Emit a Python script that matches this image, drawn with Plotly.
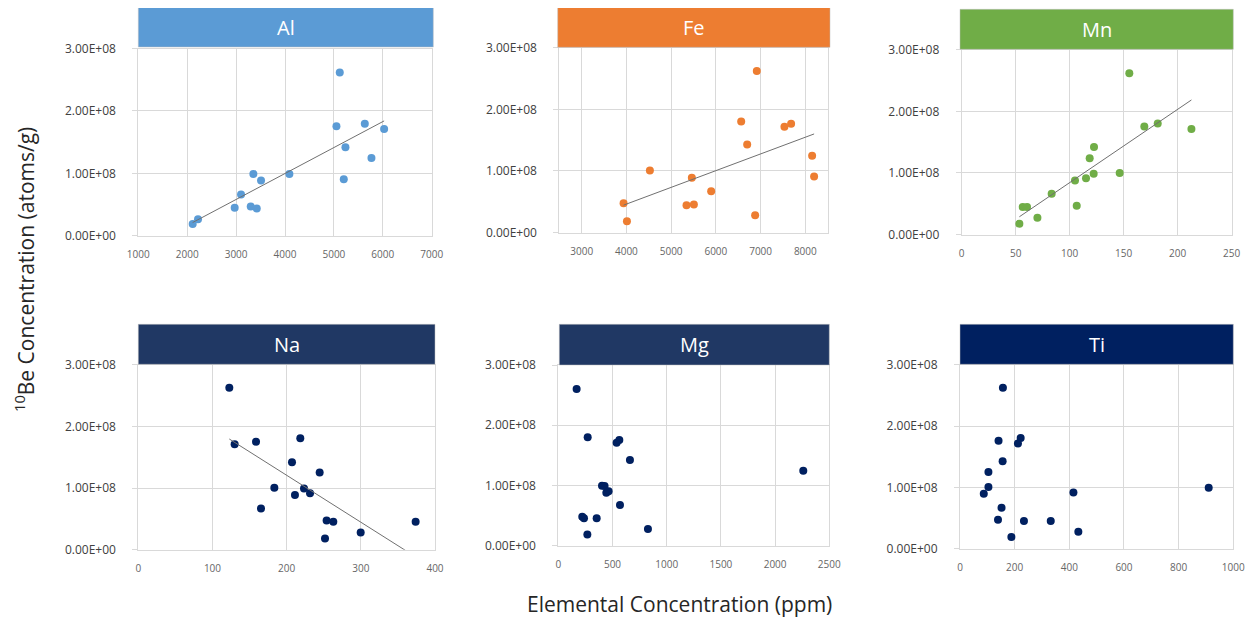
import plotly.graph_objects as go

# ---------------- data (y in atoms/g) ----------------
E8 = 1e8
al_x = [2112, 2221, 2971, 3101, 3299, 3353, 3422, 3510, 4090, 5052, 5120, 5202, 5236, 5632, 5768, 6027]
al_y = [0.187, 0.267, 0.448, 0.661, 0.469, 0.991, 0.437, 0.885, 0.991, 1.754, 2.617, 0.906, 1.418, 1.796, 1.247, 1.711]
al_trend_x = [2112, 6027]
al_trend_y = [0.213, 1.840]

fe_x = [3937, 4012, 4525, 5344, 5463, 5508, 5895, 6566, 6700, 6878, 6915, 7533, 7682, 8152, 8196]
fe_y = [0.476, 0.184, 1.007, 0.444, 0.888, 0.455, 0.671, 1.803, 1.429, 0.282, 2.620, 1.716, 1.765, 1.245, 0.910]
fe_trend_x = [3937, 8196]
fe_trend_y = [0.444, 1.600]

mn_x = [53.4, 56.5, 60.5, 70.1, 83.3, 104.9, 106.5, 115.1, 118.5, 122.2, 122.5, 146.3, 155.2, 169.1, 181.5, 212.7]
mn_y = [0.174, 0.445, 0.445, 0.271, 0.662, 0.879, 0.467, 0.912, 1.237, 0.988, 1.422, 0.998, 2.621, 1.753, 1.801, 1.715]
mn_trend_x = [53.4, 212.7]
mn_trend_y = [0.288, 2.185]

na_x = [122.7, 129.9, 158.7, 165.4, 183.4, 207.2, 211.2, 218.4, 223.4, 231.5, 244.5, 251.7, 253.9, 262.9, 299.8, 373.9]
na_y = [2.625, 1.709, 1.752, 0.668, 1.003, 1.418, 0.889, 1.806, 0.992, 0.916, 1.251, 0.183, 0.474, 0.453, 0.280, 0.453]
na_trend_x = [122.7, 373.9]
na_trend_y = [1.795, -0.116]

mg_x = [169, 271, 538, 563, 661, 403, 427, 443, 464, 569, 221, 237, 354, 268, 827, 2260]
mg_y = [2.601, 1.799, 1.710, 1.754, 1.422, 0.996, 0.991, 0.880, 0.902, 0.675, 0.481, 0.454, 0.454, 0.188, 0.277, 1.245]

ti_x = [157, 141, 212, 222, 156, 104, 104, 87, 415, 152, 139, 234, 332, 433, 188, 910]
ti_y = [2.625, 1.761, 1.717, 1.804, 1.424, 1.250, 1.005, 0.897, 0.918, 0.668, 0.473, 0.451, 0.451, 0.277, 0.190, 0.995]

y_tickvals = [0, 1e8, 2e8, 3e8]
y_ticktext = ["0.00E+00", "1.00E+08", "2.00E+08", "3.00E+08"]

panels = [
    # name, x, y, trend_x, trend_y, color, bar color, xrange, dtick, plot px box, bar px box
    ("Al", al_x, al_y, al_trend_x, al_trend_y, "#5B9BD5", "#5B9BD5", [1000, 7000], 1000,
     (138.3, 431.7, 48.5, 235.8), (138.3, 433.3, 7.3, 47.0)),
    ("Fe", fe_x, fe_y, fe_trend_x, fe_trend_y, "#ED7D31", "#ED7D31", [2500, 8500], 1000,
     (559.3, 827.7, 47.7, 232.5), (557.7, 830.0, 6.7, 47.3)),
    ("Mn", mn_x, mn_y, mn_trend_x, mn_trend_y, "#70AD47", "#70AD47", [0, 250], 50,
     (961.7, 1231.7, 49.8, 234.5), (960.0, 1233.3, 9.3, 49.3)),
    ("Na", na_x, na_y, na_trend_x, na_trend_y, "#002060", "#203864", [0, 400], 100,
     (138.3, 435.0, 364.7, 549.7), (138.3, 435.0, 324.3, 364.3)),
    ("Mg", mg_x, mg_y, None, None, "#002060", "#203864", [0, 2500], 500,
     (558.3, 829.3, 365.0, 545.7), (559.3, 829.3, 324.3, 365.0)),
    ("Ti", ti_x, ti_y, None, None, "#002060", "#002060", [0, 1000], 200,
     (960.0, 1233.3, 364.7, 548.7), (960.0, 1233.3, 324.3, 364.3)),
]

W, H = 1257, 622
OFF = 8                     # default page body margin
PW, PH = W - OFF, H - OFF
FONT = "Open Sans"
GRID = "#D9D9D9"


def fx(p):
    return (p - OFF) / PW


def fy(p):
    return 1 - (p - OFF) / PH


fig = go.Figure()
shapes = []
annotations = []

for i, (name, xs, ys, tx, ty, col, barcol, xr, dt, box, bar) in enumerate(panels, start=1):
    xa = "x" if i == 1 else f"x{i}"
    ya = "y" if i == 1 else f"y{i}"
    fig.add_trace(go.Scatter(
        x=xs, y=[v * E8 for v in ys], mode="markers",
        marker=dict(color=col, size=8, line=dict(width=0)),
        xaxis=xa, yaxis=ya, showlegend=False, hoverinfo="x+y"))
    if tx is not None:
        fig.add_trace(go.Scatter(
            x=tx, y=[v * E8 for v in ty], mode="lines",
            line=dict(color="#707070", width=1),
            xaxis=xa, yaxis=ya, showlegend=False, hoverinfo="skip"))
    x0, x1, y0, y1 = box
    xkey = "xaxis" if i == 1 else f"xaxis{i}"
    ykey = "yaxis" if i == 1 else f"yaxis{i}"
    fig.update_layout(**{
        xkey: dict(domain=[fx(x0), fx(x1)], anchor=ya, range=xr, dtick=dt, tick0=0,
                   tickformat="d", showgrid=True, gridcolor=GRID, gridwidth=1,
                   showline=True, linecolor=GRID, linewidth=1, mirror=True,
                   zeroline=False, ticks="", ticklabelstandoff=9, automargin=False,
                   tickfont=dict(family=FONT, size=10, color="#666666")),
        ykey: dict(domain=[fy(y1), fy(y0)], anchor=xa, range=[0, 3e8],
                   tickvals=y_tickvals, ticktext=y_ticktext,
                   showgrid=True, gridcolor=GRID, gridwidth=1,
                   showline=True, linecolor=GRID, linewidth=1, mirror=True,
                   zeroline=False, ticks="outside", ticklen=5, tickcolor=GRID,
                   ticklabelstandoff=14, automargin=False,
                   tickfont=dict(family=FONT, size=12, color="#404040")),
    })
    bx0, bx1, by0, by1 = bar
    shapes.append(dict(type="rect", xref="paper", yref="paper",
                       x0=fx(bx0), x1=fx(bx1), y0=fy(by1), y1=fy(by0),
                       fillcolor=barcol, line=dict(color="#BFBFBF", width=0.5), layer="above"))
    annotations.append(dict(xref="paper", yref="paper", x=fx((bx0 + bx1) / 2),
                            y=fy((by0 + by1) / 2), text=name, showarrow=False,
                            xanchor="center", yanchor="middle",
                            font=dict(family=FONT, size=20, color="white")))

annotations.append(dict(xref="paper", yref="paper", x=fx(24), y=fy(270),
                        text="<sup>10</sup>Be Concentration (atoms/g)", textangle=-90,
                        showarrow=False, xanchor="center", yanchor="middle",
                        font=dict(family=FONT, size=21, color="#262626")))
annotations.append(dict(xref="paper", yref="paper", x=fx(679), y=fy(604),
                        text="Elemental Concentration (ppm)", showarrow=False,
                        xanchor="center", yanchor="middle",
                        font=dict(family=FONT, size=21, color="#262626")))

fig.update_layout(width=PW, height=PH, margin=dict(l=0, r=0, t=0, b=0, autoexpand=False),
                  paper_bgcolor="white", plot_bgcolor="white",
                  shapes=shapes, annotations=annotations, showlegend=False)

fig.write_html("out.html")
